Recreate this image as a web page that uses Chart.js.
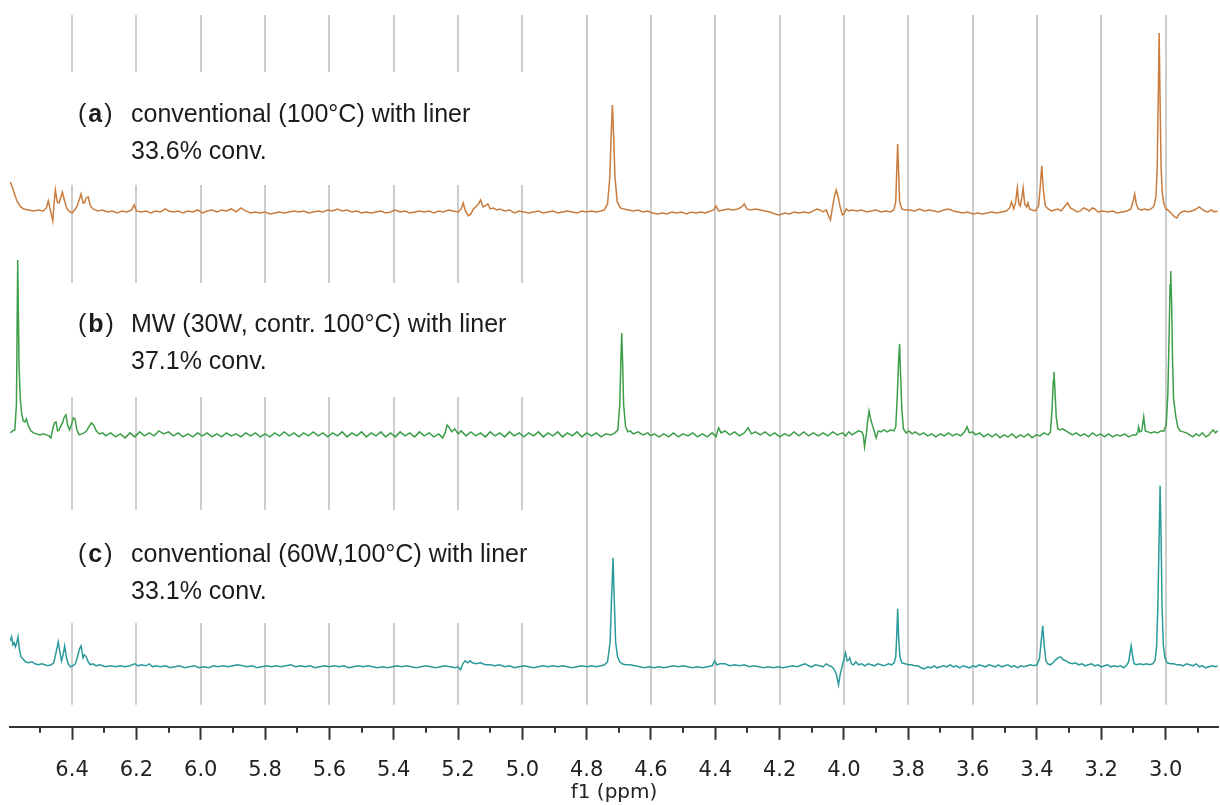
<!DOCTYPE html>
<html>
<head>
<meta charset="utf-8">
<script src="https://cdn.jsdelivr.net/npm/chart.js@4.4.0/dist/chart.umd.min.js"></script>
<style>
  html, body { margin: 0; padding: 0; background: #fff; }
  #wrap { width: 1220px; height: 805px; }
</style>
</head>
<body>
<div id="wrap"><canvas id="nmr" width="1220" height="805"></canvas></div>
<script>
// x axis (ppm)
const X_MAX = 6.593;
const X_MIN = 2.837;
const MAJOR_TICKS = [6.4, 6.2, 6.0, 5.8, 5.6, 5.4, 5.2, 5.0, 4.8, 4.6, 4.4, 4.2, 4.0, 3.8, 3.6, 3.4, 3.2, 3.0];
const MINOR_TICKS = [6.5, 6.3, 6.1, 5.9, 5.7, 5.5, 5.3, 5.1, 4.9, 4.7, 4.5, 4.3, 4.1, 3.9, 3.7, 3.5, 3.3, 3.1, 2.9];

// baseline offset of each trace (same units as intensities)
const OFFSETS = [515, 292, 60];

const SERIES_NAMES = ['a', 'b', 'c'];
const LABEL_LINE1 = ['conventional (100°C) with liner', 'MW (30W, contr. 100°C) with liner', 'conventional (60W,100°C) with liner'];
const LABEL_LINE2 = ['33.6% conv.', '37.1% conv.', '33.1% conv.'];

// spectrum (a): [ppm, intensity above baseline]
const SPEC_A = [[6.592,30],[6.585,24],[6.578,17],[6.57,10],[6.56,5],[6.55,3],[6.535,2],[6.52,1],[6.505,2],[6.49,1],[6.48,4],[6.474,11],[6.467,1],[6.46,-9],[6.456,8],[6.452,22],[6.446,10],[6.44,9],[6.435,15],[6.43,20],[6.424,12],[6.417,4],[6.41,1],[6.4,-1],[6.392,2],[6.384,6],[6.378,12],[6.372,18],[6.366,9],[6.362,9],[6.356,14],[6.35,15],[6.343,6],[6.335,3],[6.32,1],[6.305,2],[6.29,0],[6.275,1],[6.26,-1],[6.245,1],[6.23,0],[6.215,2],[6.207,7],[6.2,1],[6.185,0],[6.17,1],[6.155,-1],[6.14,1],[6.125,0],[6.11,3],[6.1,1],[6.085,0],[6.07,1],[6.055,-1],[6.04,1],[6.025,0],[6.01,2],[5.995,-1],[5.98,1],[5.965,2],[5.95,0],[5.935,2],[5.92,1],[5.905,3],[5.89,0],[5.875,4],[5.86,1],[5.845,-1],[5.83,0],[5.815,-1],[5.8,0],[5.785,-2],[5.77,-1],[5.755,0],[5.74,-1],[5.725,0],[5.71,1],[5.695,0],[5.68,1],[5.665,-1],[5.65,0],[5.635,1],[5.62,0],[5.605,2],[5.59,1],[5.575,3],[5.56,1],[5.545,2],[5.53,0],[5.515,1],[5.5,-1],[5.485,0],[5.47,-1],[5.455,0],[5.44,1],[5.425,-1],[5.41,0],[5.395,2],[5.38,0],[5.365,1],[5.35,-1],[5.335,0],[5.32,1],[5.305,0],[5.29,1],[5.275,-1],[5.26,1],[5.245,0],[5.23,2],[5.215,1],[5.2,0],[5.19,3],[5.184,9],[5.177,1],[5.168,-4],[5.16,-2],[5.152,3],[5.145,5],[5.136,8],[5.13,12],[5.122,5],[5.115,6],[5.107,8],[5.1,3],[5.09,4],[5.08,2],[5.07,3],[5.055,1],[5.04,2],[5.025,-1],[5.01,1],[4.995,0],[4.98,-1],[4.965,0],[4.95,1],[4.935,-1],[4.92,0],[4.905,1],[4.89,-1],[4.875,0],[4.86,1],[4.845,0],[4.83,-1],[4.815,1],[4.8,0],[4.785,1],[4.77,0],[4.755,1],[4.745,2],[4.735,8],[4.728,35],[4.724,75],[4.72,107],[4.716,75],[4.712,35],[4.705,10],[4.695,4],[4.685,3],[4.67,2],[4.655,1],[4.64,2],[4.625,0],[4.61,1],[4.595,-1],[4.58,-2],[4.565,-1],[4.55,-2],[4.535,0],[4.52,-1],[4.505,0],[4.49,-2],[4.475,0],[4.46,-1],[4.445,0],[4.43,-1],[4.415,1],[4.405,2],[4.398,6],[4.39,1],[4.375,2],[4.36,3],[4.345,2],[4.33,3],[4.318,5],[4.31,8],[4.302,3],[4.29,2],[4.275,3],[4.26,2],[4.245,1],[4.23,0],[4.215,-2],[4.2,-3],[4.185,-1],[4.17,-2],[4.155,0],[4.14,-1],[4.125,0],[4.11,-1],[4.095,1],[4.085,3],[4.075,2],[4.065,0],[4.055,2],[4.048,-4],[4.042,-8],[4.036,4],[4.03,15],[4.024,22],[4.018,15],[4.012,5],[4.005,-3],[4.0,-2],[3.993,3],[3.985,1],[3.975,2],[3.96,1],[3.945,2],[3.93,0],[3.915,1],[3.9,2],[3.885,0],[3.87,1],[3.855,0],[3.845,2],[3.839,10],[3.836,40],[3.833,68],[3.83,40],[3.827,10],[3.82,3],[3.81,2],[3.795,2],[3.78,1],[3.765,3],[3.75,1],[3.735,2],[3.72,1],[3.705,0],[3.69,2],[3.675,3],[3.66,1],[3.645,0],[3.63,-1],[3.615,0],[3.6,-2],[3.585,-1],[3.57,-2],[3.555,-1],[3.54,0],[3.525,-1],[3.51,0],[3.495,1],[3.485,4],[3.479,10],[3.472,3],[3.466,10],[3.461,24],[3.456,8],[3.452,6],[3.447,14],[3.443,24],[3.438,8],[3.432,5],[3.428,9],[3.423,3],[3.415,2],[3.405,1],[3.395,6],[3.39,24],[3.385,46],[3.38,22],[3.374,6],[3.365,3],[3.355,1],[3.345,2],[3.335,3],[3.325,1],[3.315,5],[3.305,9],[3.296,4],[3.285,2],[3.275,0],[3.265,1],[3.255,4],[3.247,3],[3.238,1],[3.228,4],[3.22,3],[3.21,0],[3.195,1],[3.18,0],[3.165,1],[3.15,-1],[3.135,0],[3.12,1],[3.108,3],[3.1,12],[3.096,18],[3.091,8],[3.085,3],[3.075,2],[3.065,3],[3.055,2],[3.045,3],[3.036,6],[3.03,15],[3.026,45],[3.023,110],[3.02,179],[3.017,110],[3.014,45],[3.01,18],[3.005,8],[2.998,3],[2.99,1],[2.98,-2],[2.972,-5],[2.965,-6],[2.958,-2],[2.95,0],[2.94,1],[2.93,0],[2.92,1],[2.91,2],[2.9,4],[2.895,5],[2.888,3],[2.878,1],[2.868,0],[2.858,2],[2.848,0],[2.838,1]];

// spectrum (b)
const SPEC_B = [[6.592,2],[6.585,4],[6.578,5],[6.573,30],[6.569,175],[6.565,70],[6.561,36],[6.557,22],[6.552,14],[6.547,13],[6.542,16],[6.536,9],[6.528,4],[6.52,2],[6.51,1],[6.5,0],[6.49,1],[6.48,0],[6.472,-1],[6.466,-3],[6.46,6],[6.455,12],[6.45,13],[6.445,4],[6.44,5],[6.435,9],[6.43,12],[6.424,18],[6.419,20],[6.414,10],[6.408,5],[6.402,10],[6.396,17],[6.391,16],[6.385,5],[6.378,0],[6.37,1],[6.362,2],[6.355,4],[6.348,8],[6.34,12],[6.333,10],[6.325,4],[6.315,1],[6.305,2],[6.295,-1],[6.28,2],[6.265,-2],[6.25,1],[6.235,-3],[6.22,2],[6.205,-2],[6.19,3],[6.175,-1],[6.16,2],[6.145,-1],[6.13,4],[6.115,1],[6.1,3],[6.085,-1],[6.07,2],[6.055,-2],[6.04,1],[6.025,-2],[6.01,2],[5.995,-1],[5.98,2],[5.965,-2],[5.95,1],[5.935,-2],[5.92,2],[5.905,-1],[5.89,1],[5.875,-2],[5.86,2],[5.845,-1],[5.83,2],[5.815,-2],[5.8,1],[5.785,-2],[5.77,2],[5.755,-1],[5.74,3],[5.725,-1],[5.71,2],[5.695,-2],[5.68,2],[5.665,-1],[5.65,3],[5.635,-1],[5.62,2],[5.605,-2],[5.59,2],[5.575,-1],[5.56,3],[5.545,-2],[5.53,2],[5.515,-1],[5.5,3],[5.485,-2],[5.47,2],[5.455,-1],[5.44,3],[5.425,-2],[5.41,2],[5.395,-2],[5.38,3],[5.365,-1],[5.35,2],[5.335,-2],[5.32,3],[5.305,-1],[5.29,2],[5.275,-2],[5.26,1],[5.248,-3],[5.24,2],[5.234,10],[5.228,8],[5.22,3],[5.21,6],[5.2,1],[5.19,4],[5.175,-1],[5.16,3],[5.145,-1],[5.13,2],[5.115,-2],[5.1,3],[5.085,-1],[5.07,2],[5.055,-2],[5.04,3],[5.025,-1],[5.01,2],[4.995,-2],[4.98,2],[4.965,-1],[4.95,3],[4.935,-2],[4.92,2],[4.905,-1],[4.89,3],[4.875,-2],[4.86,2],[4.845,-1],[4.83,3],[4.815,-2],[4.8,2],[4.785,-1],[4.77,2],[4.755,-2],[4.74,1],[4.725,0],[4.712,2],[4.703,5],[4.697,30],[4.694,70],[4.691,102],[4.688,70],[4.685,30],[4.679,8],[4.672,3],[4.665,4],[4.655,1],[4.64,3],[4.625,0],[4.61,2],[4.6,-1],[4.59,1],[4.575,-2],[4.56,1],[4.545,-2],[4.53,2],[4.515,-2],[4.5,1],[4.485,-1],[4.47,2],[4.455,-2],[4.44,1],[4.425,-2],[4.41,2],[4.398,-2],[4.39,7],[4.382,2],[4.37,4],[4.355,0],[4.34,3],[4.325,-1],[4.31,2],[4.298,7],[4.288,1],[4.275,3],[4.26,0],[4.245,3],[4.23,-1],[4.215,2],[4.2,-2],[4.185,1],[4.17,-1],[4.155,3],[4.14,-1],[4.125,3],[4.11,-1],[4.095,2],[4.08,-1],[4.065,2],[4.05,-1],[4.035,3],[4.02,0],[4.005,2],[3.995,-1],[3.985,3],[3.975,0],[3.965,2],[3.955,4],[3.945,3],[3.94,0],[3.936,-12],[3.93,2],[3.926,15],[3.922,24],[3.917,16],[3.912,10],[3.906,4],[3.9,-3],[3.893,4],[3.885,3],[3.875,5],[3.865,3],[3.855,5],[3.845,4],[3.839,8],[3.834,40],[3.83,75],[3.827,91],[3.824,60],[3.82,25],[3.815,6],[3.807,2],[3.798,4],[3.788,1],[3.778,3],[3.765,0],[3.752,2],[3.74,-1],[3.727,1],[3.715,-2],[3.7,1],[3.688,-1],[3.675,2],[3.662,-1],[3.65,1],[3.637,-1],[3.625,3],[3.617,8],[3.61,2],[3.6,3],[3.59,0],[3.578,2],[3.565,-2],[3.552,1],[3.54,-2],[3.527,1],[3.515,-3],[3.502,0],[3.49,-2],[3.477,1],[3.465,-3],[3.452,0],[3.44,-2],[3.427,1],[3.415,-3],[3.402,0],[3.39,-1],[3.378,2],[3.365,0],[3.358,3],[3.353,25],[3.349,55],[3.347,63],[3.344,45],[3.34,18],[3.335,6],[3.328,5],[3.32,6],[3.31,4],[3.3,2],[3.29,0],[3.278,2],[3.265,-1],[3.252,1],[3.24,-2],[3.227,2],[3.215,-1],[3.202,1],[3.19,-2],[3.177,1],[3.165,-2],[3.152,0],[3.14,-1],[3.127,1],[3.115,-2],[3.102,0],[3.092,0],[3.086,3],[3.084,8],[3.08,3],[3.074,4],[3.068,18],[3.063,4],[3.055,3],[3.045,2],[3.035,3],[3.025,2],[3.015,4],[3.005,4],[2.998,10],[2.993,40],[2.989,100],[2.986,150],[2.984,164],[2.981,130],[2.978,70],[2.975,35],[2.972,28],[2.968,18],[2.962,8],[2.955,4],[2.945,3],[2.935,2],[2.925,0],[2.915,-2],[2.905,1],[2.895,-1],[2.885,2],[2.875,-2],[2.865,0],[2.858,3],[2.852,5],[2.845,2],[2.838,4]];

// spectrum (c)
const SPEC_C = [[6.592,26],[6.588,30],[6.584,22],[6.58,24],[6.576,20],[6.572,24],[6.568,30],[6.564,18],[6.559,10],[6.553,8],[6.545,5],[6.535,4],[6.525,5],[6.515,3],[6.505,2],[6.495,3],[6.485,2],[6.475,1],[6.465,2],[6.457,4],[6.45,14],[6.443,25],[6.438,15],[6.433,6],[6.428,12],[6.423,21],[6.418,10],[6.412,3],[6.405,0],[6.398,1],[6.39,3],[6.383,10],[6.377,18],[6.372,21],[6.366,9],[6.362,12],[6.356,10],[6.35,5],[6.343,2],[6.335,3],[6.325,1],[6.315,2],[6.305,1],[6.295,0],[6.28,1],[6.265,0],[6.25,1],[6.235,0],[6.22,1],[6.205,3],[6.195,1],[6.185,2],[6.17,1],[6.16,3],[6.15,0],[6.14,1],[6.125,0],[6.11,1],[6.095,-1],[6.08,0],[6.065,1],[6.05,-1],[6.035,0],[6.02,1],[6.005,-1],[5.99,0],[5.975,-1],[5.96,1],[5.945,0],[5.93,1],[5.915,0],[5.9,1],[5.885,2],[5.87,1],[5.855,0],[5.84,1],[5.825,-1],[5.81,0],[5.795,1],[5.78,0],[5.765,1],[5.75,0],[5.735,1],[5.72,2],[5.705,0],[5.69,1],[5.675,0],[5.66,1],[5.645,-1],[5.63,0],[5.615,1],[5.6,0],[5.585,1],[5.57,0],[5.555,1],[5.54,-1],[5.525,0],[5.51,1],[5.495,0],[5.48,1],[5.465,0],[5.45,-1],[5.435,0],[5.42,-1],[5.405,0],[5.39,1],[5.375,0],[5.36,1],[5.345,0],[5.33,-1],[5.315,0],[5.3,1],[5.285,0],[5.27,-1],[5.255,0],[5.24,1],[5.225,0],[5.21,-1],[5.2,0],[5.192,-3],[5.185,3],[5.178,6],[5.17,4],[5.162,6],[5.155,4],[5.145,3],[5.13,4],[5.115,2],[5.1,2],[5.085,1],[5.07,2],[5.055,0],[5.04,1],[5.025,-1],[5.01,0],[4.995,1],[4.98,0],[4.965,-1],[4.95,0],[4.935,1],[4.92,0],[4.905,1],[4.89,0],[4.875,1],[4.86,0],[4.845,-1],[4.83,0],[4.815,1],[4.8,0],[4.785,1],[4.77,0],[4.755,1],[4.745,2],[4.735,5],[4.727,25],[4.723,65],[4.718,109],[4.714,65],[4.71,25],[4.704,10],[4.697,5],[4.69,3],[4.68,2],[4.665,2],[4.65,1],[4.635,0],[4.62,-1],[4.605,0],[4.59,-1],[4.575,0],[4.56,-1],[4.545,0],[4.53,1],[4.515,0],[4.5,1],[4.485,0],[4.47,-1],[4.455,0],[4.44,-1],[4.425,0],[4.41,1],[4.402,6],[4.395,2],[4.385,3],[4.37,3],[4.355,1],[4.34,2],[4.325,1],[4.31,2],[4.295,0],[4.28,1],[4.265,0],[4.25,-1],[4.235,0],[4.22,-1],[4.205,0],[4.19,-1],[4.175,0],[4.16,1],[4.145,0],[4.13,2],[4.12,3],[4.11,1],[4.1,0],[4.09,2],[4.075,1],[4.065,0],[4.055,3],[4.045,1],[4.037,0],[4.03,-3],[4.023,-8],[4.017,-18],[4.012,-8],[4.006,0],[4.0,8],[3.995,14],[3.99,6],[3.985,7],[3.982,9],[3.977,3],[3.97,2],[3.963,5],[3.955,2],[3.945,3],[3.935,1],[3.925,3],[3.915,2],[3.905,1],[3.895,3],[3.885,2],[3.875,1],[3.862,3],[3.852,2],[3.844,4],[3.839,10],[3.836,30],[3.833,58],[3.83,30],[3.826,10],[3.82,4],[3.81,3],[3.8,2],[3.79,2],[3.78,1],[3.77,1],[3.76,-1],[3.75,-2],[3.74,0],[3.73,-1],[3.72,1],[3.71,-1],[3.7,0],[3.69,1],[3.68,0],[3.67,2],[3.66,0],[3.65,1],[3.64,-1],[3.63,1],[3.62,0],[3.61,-1],[3.6,1],[3.59,0],[3.58,2],[3.57,1],[3.56,0],[3.55,2],[3.54,1],[3.53,0],[3.52,2],[3.51,0],[3.5,1],[3.49,2],[3.48,0],[3.47,1],[3.46,-1],[3.45,1],[3.44,0],[3.43,1],[3.42,2],[3.41,1],[3.4,2],[3.392,8],[3.387,25],[3.382,41],[3.377,20],[3.372,6],[3.366,3],[3.358,2],[3.35,4],[3.342,7],[3.335,9],[3.326,10],[3.318,7],[3.31,6],[3.3,4],[3.29,3],[3.28,4],[3.27,2],[3.26,3],[3.25,1],[3.24,2],[3.23,3],[3.22,1],[3.21,2],[3.2,0],[3.19,1],[3.18,2],[3.17,0],[3.16,1],[3.15,0],[3.14,1],[3.13,-1],[3.12,2],[3.115,5],[3.11,15],[3.107,21],[3.103,12],[3.098,3],[3.09,2],[3.08,3],[3.07,2],[3.06,3],[3.05,2],[3.04,3],[3.033,6],[3.028,20],[3.024,60],[3.02,130],[3.017,181],[3.014,130],[3.011,60],[3.007,22],[3.002,9],[2.995,4],[2.985,3],[2.975,3],[2.965,2],[2.955,2],[2.945,1],[2.935,3],[2.925,2],[2.915,1],[2.905,3],[2.895,0],[2.885,1],[2.875,-1],[2.865,0],[2.855,1],[2.845,0],[2.838,1]];

const COLORS = ['#c97c3d', '#3d9e48', '#2c9a9a'];

// label block for each trace: text rows (px) and the white band that hides the grid
const LABEL_BLOCKS = [
  { row1: 115, row2: 152, top: 72, bottom: 185 },
  { row1: 325, row2: 362, top: 283, bottom: 397 },
  { row1: 555, row2: 592, top: 510, bottom: 623 },
];

const decor = {
  id: 'nmrDecor',
  beforeDatasetsDraw(chart) {
    const { ctx, chartArea, scales: { x } } = chart;
    ctx.save();
    // vertical grid, stops a little above the axis
    ctx.strokeStyle = '#cdcdcd';
    ctx.lineWidth = 2;
    MAJOR_TICKS.forEach(v => {
      const px = Math.round(x.getPixelForValue(v));
      ctx.beginPath();
      ctx.moveTo(px, chartArea.top);
      ctx.lineTo(px, chartArea.bottom - 22);
      ctx.stroke();
    });
    // white bands behind the labels
    ctx.fillStyle = '#fff';
    LABEL_BLOCKS.forEach(b => ctx.fillRect(60, b.top, 500, b.bottom - b.top));

    ctx.fillStyle = '#1c1c1c';
    ctx.textBaseline = 'middle';
    ctx.textAlign = 'left';
    const reg = '25px "Liberation Sans", Arial, sans-serif';
    const bold = 'bold 25px "Liberation Sans", Arial, sans-serif';
    LABEL_BLOCKS.forEach((b, i) => {
      let tx = 78;
      ctx.font = reg; ctx.fillText('(', tx, b.row1); tx += ctx.measureText('(').width + 2;
      ctx.font = bold; ctx.fillText(SERIES_NAMES[i], tx, b.row1); tx += ctx.measureText(SERIES_NAMES[i]).width + 2;
      ctx.font = reg; ctx.fillText(')', tx, b.row1);
      ctx.fillText(LABEL_LINE1[i], 131, b.row1);
      ctx.fillText(LABEL_LINE2[i], 131, b.row2);
    });
    ctx.restore();
  },
  afterDraw(chart) {
    const { ctx, chartArea, scales: { x } } = chart;
    ctx.save();
    ctx.strokeStyle = '#333';
    ctx.lineWidth = 2;
    MINOR_TICKS.forEach(v => {
      const px = Math.round(x.getPixelForValue(v));
      ctx.beginPath();
      ctx.moveTo(px, chartArea.bottom);
      ctx.lineTo(px, chartArea.bottom + 6);
      ctx.stroke();
    });
    ctx.restore();
  }
};

const specs = [SPEC_A, SPEC_B, SPEC_C];

new Chart(document.getElementById('nmr'), {
  type: 'line',
  data: {
    datasets: specs.map((s, i) => ({
      label: SERIES_NAMES[i],
      data: s.map(([ppm, v]) => ({ x: ppm, y: v + OFFSETS[i] })),
      borderColor: COLORS[i],
      borderWidth: 1.5,
      pointRadius: 0,
      tension: 0,
      fill: false,
    })),
  },
  options: {
    responsive: false,
    animation: false,
    layout: { padding: { left: 10, right: 2, top: 15, bottom: 0 } },
    plugins: { legend: { display: false }, tooltip: { enabled: false } },
    scales: {
      x: {
        type: 'linear',
        reverse: true,
        min: X_MIN,
        max: X_MAX,
        afterBuildTicks: scale => { scale.ticks = MAJOR_TICKS.map(v => ({ value: v })); },
        grid: { drawOnChartArea: false, drawTicks: true, tickLength: 13, tickColor: '#333', tickWidth: 2 },
        border: { display: true, color: '#333', width: 2 },
        ticks: {
          autoSkip: false,
          maxRotation: 0,
          padding: 18,
          color: '#222',
          font: { family: '"DejaVu Sans", Verdana, sans-serif', size: 21 },
          callback: v => Number(v).toFixed(1),
        },
        title: {
          display: true,
          text: 'f1 (ppm)',
          color: '#222',
          font: { family: '"DejaVu Sans", Verdana, sans-serif', size: 20 },
          padding: { top: -20, bottom: 0 },
        },
      },
      y: { display: false, min: 0, max: 712 },
    },
  },
  plugins: [decor],
});
</script>
</body>
</html>
